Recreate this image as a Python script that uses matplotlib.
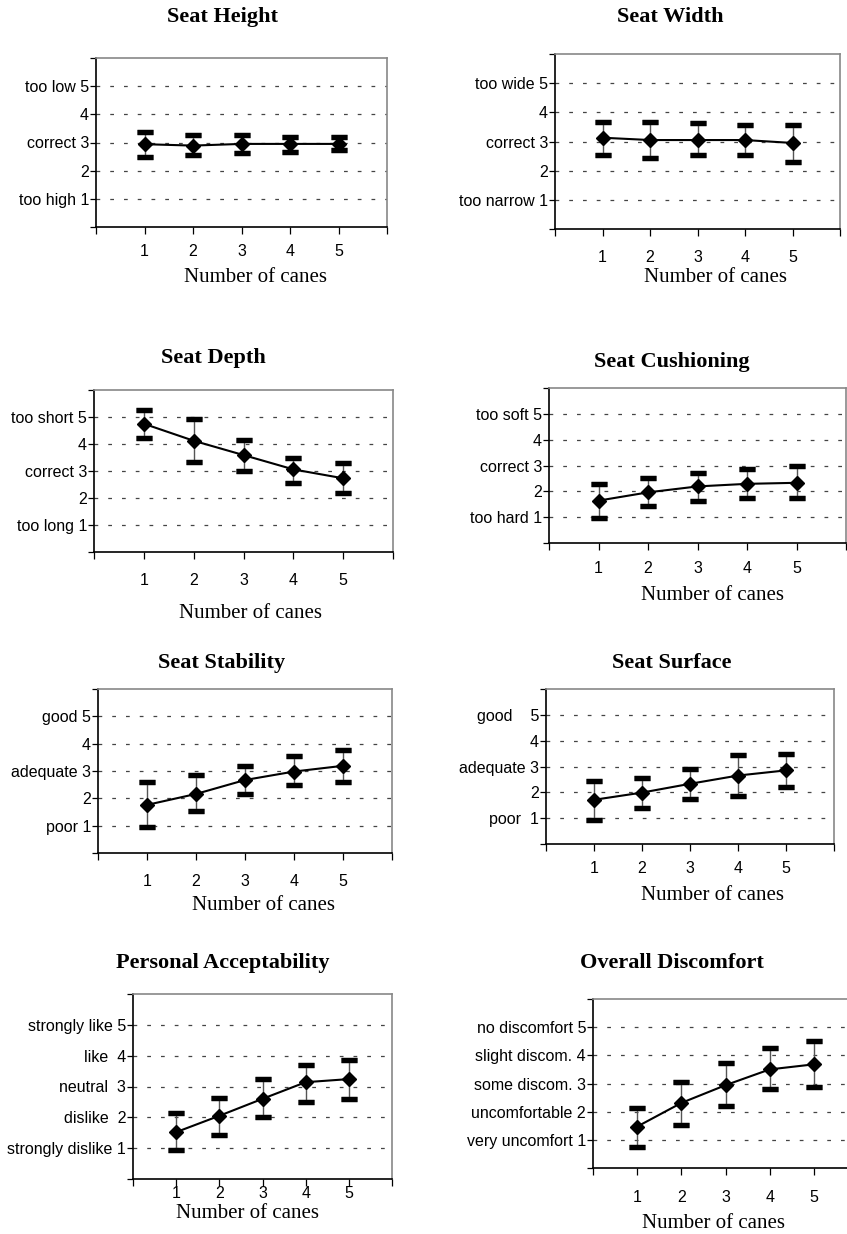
import numpy as np
import matplotlib
matplotlib.use('Agg')
import matplotlib.pyplot as plt

# 数据
canes = [1, 2, 3, 4, 5]

titles = ['Seat Height', 'Seat Width', 'Seat Depth', 'Seat Cushioning',
          'Seat Stability', 'Seat Surface', 'Personal Acceptability', 'Overall Discomfort']

ylabels = [
    ['too high 1', '2', 'correct 3', '4', 'too low 5'],
    ['too narrow 1', '2', 'correct 3', '4', 'too wide 5'],
    ['too long 1', '2', 'correct 3', '4', 'too short 5'],
    ['too hard 1', '2', 'correct 3', '4', 'too soft 5'],
    ['poor 1', '2', 'adequate 3', '4', 'good 5'],
    ['poor  1', '2', 'adequate 3', '4', 'good    5'],
    ['strongly dislike 1', 'dislike  2', 'neutral  3', 'like  4', 'strongly like 5'],
    ['very uncomfort 1', 'uncomfortable 2', 'some discom. 3', 'slight discom. 4', 'no discomfort 5'],
]

height_mean = [2.94, 2.89, 2.95, 2.95, 2.95]
height_hi = [3.39, 3.27, 3.27, 3.21, 3.18]
height_lo = [2.50, 2.56, 2.62, 2.68, 2.74]

width_mean = [3.13, 3.05, 3.05, 3.05, 2.95]
width_hi = [3.67, 3.67, 3.62, 3.56, 3.56]
width_lo = [2.53, 2.42, 2.53, 2.53, 2.30]

depth_mean = [4.75, 4.12, 3.59, 3.06, 2.73]
depth_hi = [5.27, 4.93, 4.14, 3.50, 3.28]
depth_lo = [4.23, 3.34, 3.00, 2.57, 2.18]

cushion_mean = [1.64, 1.96, 2.19, 2.29, 2.33]
cushion_hi = [2.29, 2.53, 2.71, 2.85, 3.00]
cushion_lo = [0.96, 1.44, 1.62, 1.74, 1.74]

stability_mean = [1.76, 2.16, 2.67, 2.98, 3.19]
stability_hi = [2.61, 2.85, 3.19, 3.55, 3.76]
stability_lo = [0.95, 1.52, 2.16, 2.47, 2.61]

surface_mean = [1.71, 1.99, 2.33, 2.65, 2.85]
surface_hi = [2.42, 2.54, 2.90, 3.44, 3.49]
surface_lo = [0.94, 1.41, 1.76, 1.86, 2.19]

accept_mean = [1.52, 2.05, 2.60, 3.14, 3.24]
accept_hi = [2.14, 2.62, 3.24, 3.70, 3.86]
accept_lo = [0.95, 1.43, 2.00, 2.50, 2.61]

discomfort_mean = [1.47, 2.31, 2.94, 3.50, 3.68]
discomfort_hi = [2.13, 3.05, 3.74, 4.25, 4.50]
discomfort_lo = [0.76, 1.51, 2.19, 2.82, 2.88]

means = [height_mean, width_mean, depth_mean, cushion_mean,
         stability_mean, surface_mean, accept_mean, discomfort_mean]
highs = [height_hi, width_hi, depth_hi, cushion_hi,
         stability_hi, surface_hi, accept_hi, discomfort_hi]
lows = [height_lo, width_lo, depth_lo, cushion_lo,
        stability_lo, surface_lo, accept_lo, discomfort_lo]

# 版面 (像素)
W, H = 847, 1234
boxes = [(96, 58, 387, 227), (555, 54, 840, 229),
         (94, 390, 393, 552), (549, 388, 846, 543),
         (98, 689, 392, 853), (546, 689, 834, 844),
         (133, 994, 392, 1179), (593, 999, 858, 1168)]
title_pos = [(222, 17), (670, 17), (213, 358), (672, 362),
             (222, 663), (672, 663), (223, 963), (672, 963)]
xlabel_pos = [(255, 277), (715, 277), (250, 613), (712, 595),
              (263, 905), (712, 895), (247, 1213), (713, 1223)]
xtick_pad = [7, 10, 10, 8, 10, 7, 0, 11]

fig = plt.figure(figsize=(W / 100, H / 100), dpi=100)

for i in range(8):
    l, t, r, b = boxes[i]
    ax = fig.add_axes([l / W, 1 - b / H, (r - l) / W, (b - t) / H])
    m = np.array(means[i])
    hi = np.array(highs[i])
    lo = np.array(lows[i])
    ax.errorbar(canes, m, yerr=[m - lo, hi - m], fmt='none', ecolor='#555555',
                elinewidth=1, capsize=5.5, capthick=3.8, zorder=3)
    # 端帽为黑色粗条
    ax.errorbar(canes, m, yerr=[m - lo, hi - m], fmt='none', ecolor='black',
                elinewidth=0, capsize=5.5, capthick=3.8, zorder=4)
    ax.plot(canes, m, color='black', lw=1.5, marker='D', markersize=7, zorder=5)

    for yv in range(1, 6):
        ax.axhline(yv, color='#444444', lw=0.9, ls=(0, (3, 8)), zorder=1)

    ax.set_xlim(0, 6)
    ax.set_ylim(0, 6)
    ax.set_xticks(range(7))
    ax.set_xticklabels([''] + [str(c) for c in canes] + [''],
                       fontsize=11.5, family='Liberation Sans')
    ax.set_yticks(range(7))
    ax.set_yticklabels([''] + ylabels[i] + [''], fontsize=11.5, family='Liberation Sans')
    ax.tick_params(axis='x', direction='out', length=5, width=0.9, pad=xtick_pad[i])
    ax.tick_params(axis='y', direction='out', length=4, width=0.9, pad=1)
    ax.spines['left'].set_linewidth(1.2)
    ax.spines['bottom'].set_linewidth(1.2)
    for s in ['top', 'right']:
        ax.spines[s].set_color('#888888')
        ax.spines[s].set_linewidth(1.2)

    fig.text(title_pos[i][0] / W, 1 - title_pos[i][1] / H, titles[i],
             ha='center', va='center', fontsize=16, fontweight='bold',
             family='Liberation Serif')
    fig.text(xlabel_pos[i][0] / W, 1 - xlabel_pos[i][1] / H, 'Number of canes',
             ha='center', va='center', fontsize=15, family='Liberation Serif')

plt.savefig('out.png', dpi=100)
